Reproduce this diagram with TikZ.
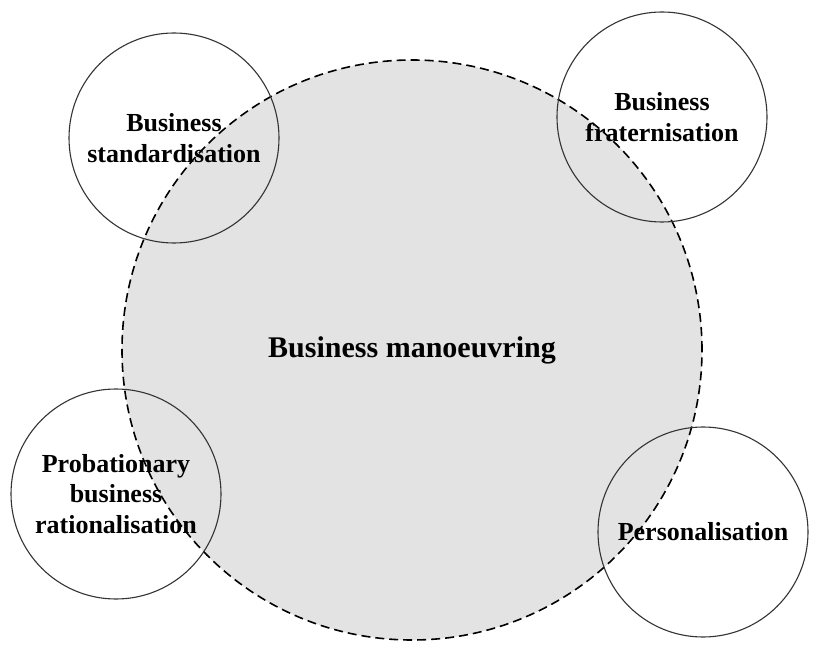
\documentclass[tikz,border=0pt]{standalone}
\usepackage{fontspec}
\setmainfont{Liberation Serif}
\begin{document}
\begin{tikzpicture}[x=1pt, y=-1pt,
    bigcircle/.style={circle, draw=black, dashed, line width=1.6pt, dash pattern=on 9pt off 5pt, fill=gray!22, minimum size=580pt, font=\bfseries\fontsize{30}{34}\selectfont},
    smallcircle/.style={circle, draw=black!80, line width=1.1pt, minimum size=210pt, inner sep=0pt, align=center, font=\bfseries\fontsize{26}{30.5}\selectfont}]
    \useasboundingbox (0,0) rectangle (825,668);
    \node[bigcircle] (manoeuvring) at (412,350) {Business manoeuvring};
    \node[smallcircle] (standard) at (174,138) {Business\\standardisation};
    \node[smallcircle] (fratern) at (662,117) {Business\\fraternisation};
    \node[smallcircle] (probation) at (116,494) {Probationary\\business\\rationalisation};
    \node[smallcircle] (personal) at (703,532) {Personalisation};
\end{tikzpicture}
\end{document}
